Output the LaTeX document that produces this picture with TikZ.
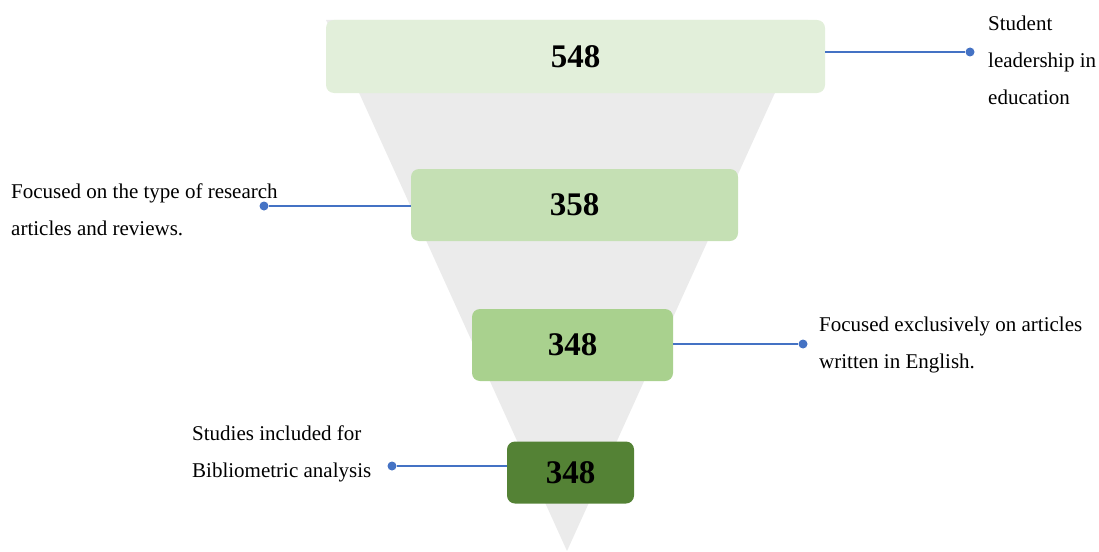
\documentclass[tikz,border=0pt]{standalone}
\usepackage{fontspec}
\setmainfont{Liberation Serif}
\usepackage{tikz}
\definecolor{funnelgray}{HTML}{EBEBEB}
\definecolor{stepA}{HTML}{E2EFDA}
\definecolor{stepB}{HTML}{C5E0B4}
\definecolor{stepC}{HTML}{A9D18E}
\definecolor{stepD}{HTML}{548235}
\definecolor{linkblue}{HTML}{4472C4}
\tikzset{
	stepbox/.style={rounded corners=8pt, inner sep=0pt, font=\fontsize{33}{36}\selectfont\bfseries},
	linkdot/.style={circle, fill=linkblue, inner sep=0pt, minimum size=9pt},
	link/.style={linkblue, line width=1.3pt},
	note/.style={align=left, inner sep=0pt, font=\fontsize{21}{37}\selectfont}
}
\begin{document}
\begin{tikzpicture}[x=1pt, y=-1pt]
	\useasboundingbox (0,0) rectangle (1099,551);
	\fill[funnelgray] (326,20) -- (808,20) -- (567,551) -- cycle;

	\node[stepbox, fill=stepA, minimum width=499pt, minimum height=73pt] (box1) at (575.5,56.5) {548};
	\node[stepbox, fill=stepB, minimum width=327pt, minimum height=72pt] (box2) at (574.5,205) {358};
	\node[stepbox, fill=stepC, minimum width=201pt, minimum height=72pt] (box3) at (572.5,345) {348};
	\node[stepbox, fill=stepD, minimum width=127pt, minimum height=62pt] (box4) at (570.5,472.5) {348};

	\node[linkdot] (dot1) at (970,52) {};
	\node[linkdot] (dot2) at (264,206) {};
	\node[linkdot] (dot3) at (803,344) {};
	\node[linkdot] (dot4) at (392,466) {};

	\draw[link] (dot1 -| box1.east) -- (dot1);
	\draw[link] (dot2 -| box2.west) -- (dot2);
	\draw[link] (dot3 -| box3.east) -- (dot3);
	\draw[link] (dot4 -| box4.west) -- (dot4);

	\node[note, anchor=west] (text1) at (988,60) {Student\\leadership in\\education};
	\node[note, anchor=west] (text2) at (11,210) {Focused on the type of research\\articles and reviews.};
	\node[note, anchor=west] (text3) at (819,345) {Focused exclusively on articles\\written in English.};
	\node[note, anchor=west] (text4) at (192,454) {Studies included for\\Bibliometric analysis};
\end{tikzpicture}
\end{document}
